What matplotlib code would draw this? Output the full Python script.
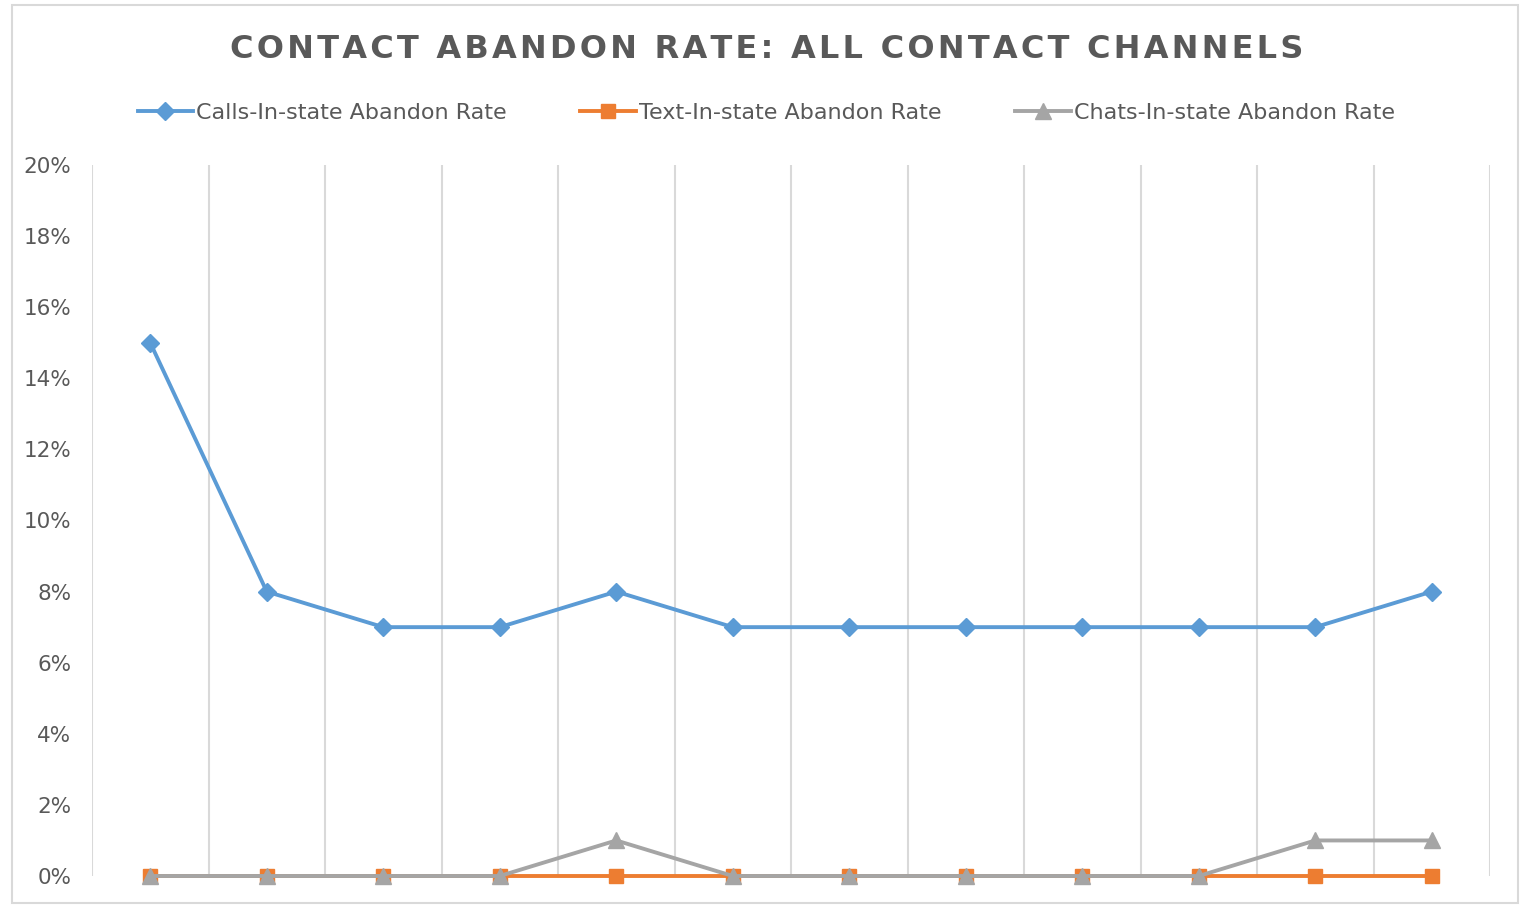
import numpy as np
import matplotlib
matplotlib.use('Agg')
import matplotlib.pyplot as plt
from matplotlib.patches import Rectangle
from matplotlib.ticker import PercentFormatter

# data
periods = list(range(12))
calls = [15, 8, 7, 7, 8, 7, 7, 7, 7, 7, 7, 8]
texts = [0, 0, 0, 0, 0, 0, 0, 0, 0, 0, 0, 0]
chats = [0, 0, 0, 0, 1, 0, 0, 0, 0, 0, 1, 1]
y_ticks = [0, 2, 4, 6, 8, 10, 12, 14, 16, 18, 20]
title = 'CONTACT ABANDON RATE: ALL CONTACT CHANNELS'

TXT = '#595959'
GRID = '#D9D9D9'

plt.rcParams['font.family'] = ['DejaVu Sans']

fig = plt.figure(figsize=(15.25, 9.05), dpi=100)
ax = fig.add_axes([92 / 1525, 1 - 876 / 905, 1398 / 1525, 711 / 905])

ax.plot(periods, calls, color='#5B9BD5', lw=2.8, marker='D', ms=9, label='Calls-In-state Abandon Rate', zorder=3)
ax.plot(periods, texts, color='#ED7D31', lw=2.8, marker='s', ms=10, label='Text-In-state Abandon Rate', zorder=3)
ax.plot(periods, chats, color='#A5A5A5', lw=2.8, marker='^', ms=11, label='Chats-In-state Abandon Rate', zorder=4)

ax.set_xlim(-0.5, 11.5)
ax.set_ylim(0, 20)
ax.set_yticks(y_ticks)
ax.yaxis.set_major_formatter(PercentFormatter(decimals=0))
ax.set_xticks([])
ax.set_xticks(np.arange(-0.5, 12, 1), minor=True)
ax.grid(True, which='minor', axis='x', color=GRID, lw=1.5)
ax.tick_params(axis='x', which='both', length=0, labelbottom=False)
ax.tick_params(axis='y', length=0, pad=15, labelsize=15.5, labelcolor=TXT)
for s in ax.spines.values():
    s.set_visible(False)
for ln in ax.lines:
    ln.set_clip_on(False)

# letter-spaced title (hair spaces between characters)
spaced = '\u200a'.join(title)
fig.text(0.5025, 1 - 50 / 905, spaced,
         ha='center', va='center', fontsize=23, fontweight='bold', color=TXT)

fig.legend(loc='center', bbox_to_anchor=(0.5025, 1 - 113 / 905), ncol=3, frameon=False,
           fontsize=16, labelcolor=TXT, handlelength=2.5, handletextpad=0.15,
           columnspacing=3.3)

fig.patches.append(Rectangle((12 / 1525, 2 / 905), 1506 / 1525, 898 / 905,
                             transform=fig.transFigure, fill=False, edgecolor=GRID, lw=1.5))

fig.savefig('out.png', dpi=100, facecolor='white')
